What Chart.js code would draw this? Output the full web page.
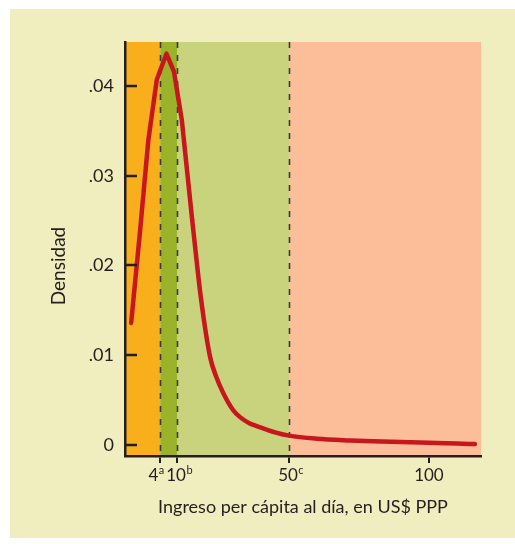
<!DOCTYPE html>
<html>
<head>
<meta charset="utf-8">
<script src="https://cdn.jsdelivr.net/npm/chart.js@4.4.0/dist/chart.umd.min.js"></script>
<style>
  body { margin: 0; background: #ffffff; }
  #panel { position: absolute; left: 10px; top: 9px; width: 505px; height: 529px; background: #f0edbe; }
  #densityChart { display: block; }
</style>
</head>
<body>
<div id="panel"><canvas id="densityChart" width="505" height="529"></canvas></div>
<script>
// income per capita per day (US$ PPP) and estimated density
// rising side and peak (straight segments)
const peakX = [-6.4, -3.3, -0.25, 2.75, 6.2, 8.9, 11.7, 15.4];
const peakY = [0.0136, 0.0236, 0.0340, 0.0407, 0.0436, 0.0416, 0.0362, 0.0251];
// falling tail (smooth)
const tailX = [15.4, 18.6, 21.8, 24, 26.5, 30, 32.5, 36, 38.5, 45, 50, 60, 71.8, 80, 90, 100, 110, 116.4];
const tailY = [0.0251, 0.0162, 0.0098, 0.0076, 0.0058, 0.0039, 0.0031, 0.0024, 0.0021, 0.0014, 0.00104, 0.0007, 0.0005, 0.0004, 0.00033, 0.00026, 0.00016, 0.0001];

const cutoffs = [4, 10, 50]; // thresholds drawn as dashed lines
const xTicks = [4, 10, 50, 100];
const xTickNumbers = ["4", "10", "50", "100"];
const xTickNotes = ["a", "b", "c", ""];
const yTicks = [0, 0.01, 0.02, 0.03, 0.04];
const yTickLabels = ["0", ".01", ".02", ".03", ".04"];
const yTitle = "Densidad";
const xTitle = "Ingreso per cápita al día, en US$ PPP";

const X_MIN = -8.6, X_MAX = 118.6;
const bandColors = ["#f9ae1c", "#9bb32a", "#c9d27d", "#fbbe98"];
const ink = "#231f20";
const redLine = "#c8161d";

const toPoints = (xs, ys) => xs.map((x, i) => ({ x: x, y: ys[i] }));

const bandsPlugin = {
  id: "bands",
  beforeDraw(chart) {
    const { ctx, chartArea } = chart;
    const xs = chart.scales.x;
    const edges = [X_MIN].concat(cutoffs, [X_MAX]);
    ctx.save();
    for (let i = 0; i < edges.length - 1; i++) {
      const x0 = xs.getPixelForValue(edges[i]);
      const x1 = xs.getPixelForValue(edges[i + 1]);
      ctx.fillStyle = bandColors[i];
      ctx.fillRect(x0, chartArea.top, x1 - x0, chartArea.bottom - chartArea.top);
    }
    ctx.restore();
  },
  beforeDatasetsDraw(chart) {
    const { ctx, chartArea } = chart;
    const xs = chart.scales.x;
    ctx.save();
    // dashed cut-off lines
    ctx.strokeStyle = "#3a3a3a";
    ctx.lineWidth = 1.6;
    ctx.setLineDash([6, 7]);
    cutoffs.forEach(c => {
      const px = Math.round(xs.getPixelForValue(c)) + 0.5;
      ctx.beginPath();
      ctx.moveTo(px, chartArea.top);
      ctx.lineTo(px, chartArea.bottom);
      ctx.stroke();
    });
    ctx.restore();
  },
  afterDraw(chart) {
    const { ctx, chartArea } = chart;
    const xs = chart.scales.x, ys = chart.scales.y;
    ctx.save();
    // inward y tick marks
    ctx.setLineDash([]);
    ctx.strokeStyle = ink;
    ctx.lineWidth = 2.5;
    yTicks.forEach(v => {
      const py = Math.round(ys.getPixelForValue(v));
      ctx.beginPath();
      ctx.moveTo(chartArea.left, py);
      ctx.lineTo(chartArea.left + 12, py);
      ctx.stroke();
    });
    const mainFont = "17px Lato";
    const noteFont = "11px Lato";
    ctx.fillStyle = ink;
    ctx.textBaseline = "alphabetic";
    ctx.textAlign = "left";
    // x tick labels with superscript notes
    xTicks.forEach((v, i) => {
      const px = xs.getPixelForValue(v);
      ctx.font = mainFont;
      const wMain = ctx.measureText(xTickNumbers[i]).width;
      // first label sits left of its tick so it clears the next one
      const start = i === 0 ? px - wMain - 2 : (xTickNotes[i] ? px - 1 - wMain / 2 : px - wMain / 2);
      const base = chartArea.bottom + 25;
      ctx.fillText(xTickNumbers[i], start, base);
      if (xTickNotes[i]) {
        ctx.font = noteFont;
        ctx.fillText(xTickNotes[i], start + wMain + 0.5, base - 7);
      }
    });
    // y axis title
    ctx.font = "19px Lato";
    ctx.textAlign = "center";
    ctx.textBaseline = "middle";
    ctx.translate(49, (chartArea.top + chartArea.bottom) / 2 + 17);
    ctx.rotate(-Math.PI / 2);
    ctx.fillText(yTitle, 0, 0);
    ctx.restore();
  }
};

const lineStyle = {
  borderColor: redLine,
  borderWidth: 4.5,
  pointRadius: 0,
  borderCapStyle: "round",
  borderJoinStyle: "round",
  fill: false
};

const config = {
  type: "line",
  data: {
    datasets: [
      Object.assign({ data: toPoints(peakX, peakY), tension: 0 }, lineStyle),
      Object.assign({ data: toPoints(tailX, tailY), cubicInterpolationMode: "monotone" }, lineStyle)
    ]
  },
  options: {
    responsive: false,
    animation: false,
    layout: { padding: { top: 33, right: 34, left: 0, bottom: 0 } },
    plugins: { legend: { display: false }, tooltip: { enabled: false } },
    scales: {
      x: {
        type: "linear",
        min: X_MIN,
        max: X_MAX,
        afterBuildTicks: s => { s.ticks = xTicks.map(v => ({ value: v })); },
        afterFit: s => { s.height = 82; },
        grid: { drawOnChartArea: false, drawTicks: true, tickLength: 7, color: ink, lineWidth: 2 },
        border: { display: true, color: ink, width: 2.5 },
        ticks: { display: false },
        title: {
          display: true,
          text: xTitle,
          color: ink,
          font: { family: "Lato", size: 18 },
          padding: { top: 20, bottom: 20 }
        }
      },
      y: {
        min: -0.00123,
        max: 0.0449,
        afterBuildTicks: s => { s.ticks = yTicks.map(v => ({ value: v })); },
        afterFit: s => { s.width = 115; },
        grid: { display: false, drawTicks: false },
        border: { display: true, color: ink, width: 2.5 },
        ticks: {
          color: ink,
          padding: 11,
          font: { family: "Lato", size: 18 },
          callback: (v, i) => yTickLabels[i]
        },
        title: { display: false }
      }
    }
  },
  plugins: [bandsPlugin]
};

const densityChart = new Chart(document.getElementById("densityChart"), config);
</script>
</body>
</html>
